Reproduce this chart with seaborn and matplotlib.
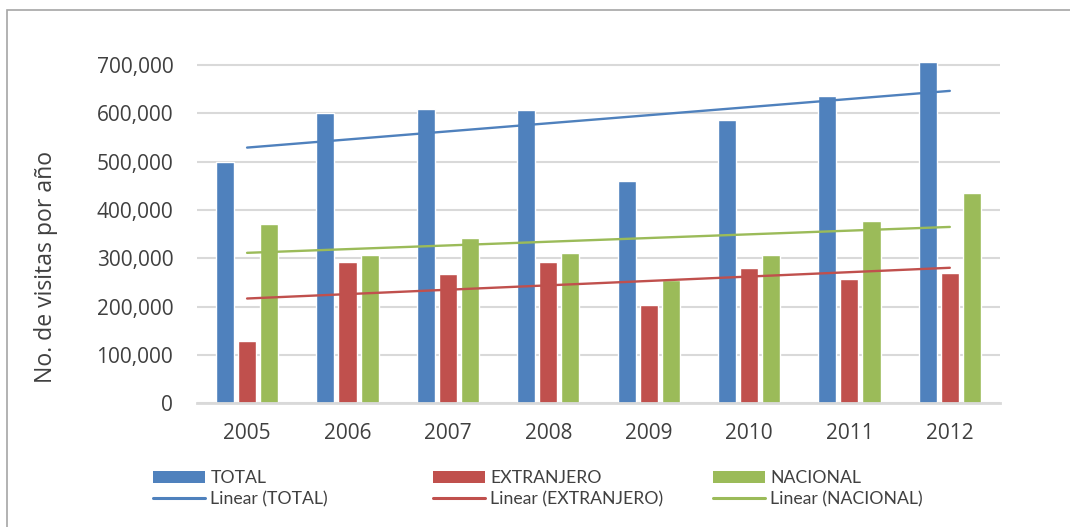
import numpy as np
import pandas as pd
import matplotlib
matplotlib.use("Agg")
import matplotlib.pyplot as plt
import matplotlib.ticker as mticker
from matplotlib.patches import Patch, Rectangle
from matplotlib.lines import Line2D
import seaborn as sns

# data
years = ["2005", "2006", "2007", "2008", "2009", "2010", "2011", "2012"]
total = [499000, 601000, 609000, 606000, 459000, 586000, 636000, 706000]
extranjero = [128000, 292000, 267000, 293000, 203000, 279000, 258000, 269000]
nacional = [371000, 307000, 341000, 312000, 255000, 306000, 377000, 436000]
series_names = ["TOTAL", "EXTRANJERO", "NACIONAL"]
colors = ["#4F81BD", "#C0504D", "#9BBB59"]

df = pd.DataFrame({"year": years, "TOTAL": total,
                   "EXTRANJERO": extranjero, "NACIONAL": nacional})
long_df = df.melt(id_vars="year", var_name="serie", value_name="visitas")

sns.set_theme(style="white")
plt.rcParams["font.family"] = ["Open Sans", "DejaVu Sans"]
text_color = "#404040"

fig = plt.figure(figsize=(10.7, 5.27), dpi=100)
ax = fig.add_axes([0.184, 0.2347, 0.7506, 0.653])

sns.barplot(data=long_df, x="year", y="visitas", hue="serie",
            order=years, hue_order=series_names, palette=colors,
            width=0.66, gap=0.18, errorbar=None, saturation=1,
            legend=False, ax=ax)

# linear trend lines (least squares on category index)
xs = np.arange(len(years))
for name, col in zip(series_names, colors):
    m, b = np.polyfit(xs, df[name].values, 1)
    ax.plot([xs[0], xs[-1]], [m * xs[0] + b, m * xs[-1] + b],
            color=col, lw=1.7, zorder=3)

ax.set_xlim(-0.5, len(years) - 0.5)
ax.set_ylim(0, 712000)
ax.set_yticks(np.arange(0, 700001, 100000))
ax.yaxis.set_major_formatter(mticker.StrMethodFormatter("{x:,.0f}"))
ax.grid(axis="y", color="#d9d9d9", lw=1.5)
ax.set_axisbelow(True)
for s in ["top", "right", "left"]:
    ax.spines[s].set_visible(False)
ax.spines["bottom"].set_color("#d9d9d9")
ax.spines["bottom"].set_linewidth(2)
ax.tick_params(axis="both", length=0, labelsize=15, colors=text_color)
ax.tick_params(axis="x", pad=14)
ax.tick_params(axis="y", pad=17)
ax.set_xlabel("")
ax.set_ylabel("")

# y title sits a bit below the axes centre in the reference
fig.text(46 / 1070, 0.493, "No. de visitas por año", rotation=90,
         ha="center", va="center", fontsize=16.6, color=text_color)

# legend: three columns, patch row + trend-line row
lx = [153 / 1070, 433 / 1070, 713 / 1070]
for name, col, x0 in zip(series_names, colors, lx):
    handles = [Patch(facecolor=col, edgecolor="none"),
               Line2D([0], [0], color=col, lw=2.2)]
    leg = fig.legend(handles, [name, f"Linear ({name})"],
                     loc="upper left", bbox_to_anchor=(x0, 0.108),
                     frameon=False, borderpad=0, borderaxespad=0,
                     handlelength=2.95, handleheight=0.68, handletextpad=0.3,
                     labelspacing=0.3,
                     prop={"family": "Lato", "size": 12.7})
    for t in leg.get_texts():
        t.set_color(text_color)

# chart border (cropped on the right and bottom like the reference)
fig.add_artist(Rectangle((7 / 1070, -0.05), 1.2, (517 / 527) + 0.05,
                         transform=fig.transFigure, fill=False,
                         edgecolor="#a6a6a6", lw=1.2))

fig.savefig("out.png", dpi=100)
